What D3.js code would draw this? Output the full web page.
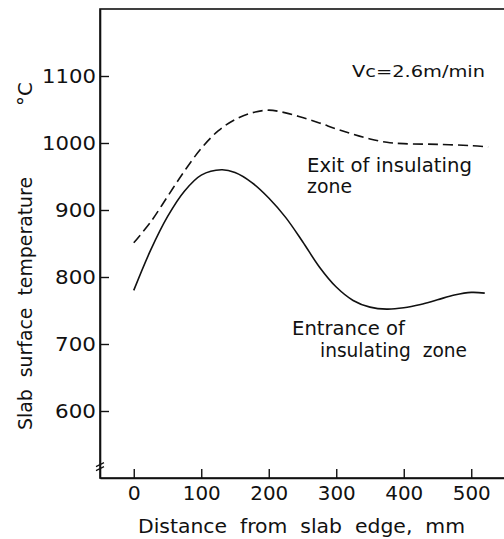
<!DOCTYPE html>
<html>
<head>
<meta charset="utf-8">
<script src="https://cdn.jsdelivr.net/npm/d3@7"></script>
<style>
  body { margin: 0; background: #fff; }
  svg text { font-family: "DejaVu Sans", sans-serif; fill: #111; white-space: pre; }
</style>
</head>
<body>
<svg id="chart"></svg>
<script>
// values
const xTicks = [0, 100, 200, 300, 400, 500];
const yTicks = [600, 700, 800, 900, 1000, 1100];

const entranceX = [0, 25, 50, 75, 100, 130, 150, 175, 200, 225, 250, 275, 300, 325, 350, 375, 400, 425, 450, 475, 500, 520];
const entranceT = [780, 840, 890, 928, 952, 960, 956, 941, 918, 889, 853, 815, 785, 765, 755, 752, 754, 759, 766, 773, 777, 776];

const exitX = [0, 25, 50, 75, 100, 125, 150, 175, 200, 225, 250, 275, 300, 325, 350, 375, 400, 450, 500, 525];
const exitT = [851, 882, 920, 958, 992, 1018, 1035, 1045, 1049, 1045, 1038, 1030, 1021, 1013, 1006, 1001, 999, 998, 996, 994];

const svgWidth = 504, svgHeight = 539;

const chart = d3.select("#chart")
    .attr("width", svgWidth)
    .attr("height", svgHeight);

var xScale = d3.scaleLinear().domain([-50, 550]).range([100, 505]);
var yScale = d3.scaleLinear().domain([500, 1200]).range([478, 9]);

// frame
chart.append("rect")
    .attr("x", xScale(-50)).attr("y", yScale(1200))
    .attr("width", xScale(550) - xScale(-50))
    .attr("height", yScale(500) - yScale(1200))
    .attr("fill", "none")
    .attr("stroke", "#111")
    .attr("stroke-width", 1.6);

var xAxis = d3.axisBottom(xScale).tickValues(xTicks).tickFormat(d3.format("d"))
    .tickSize(-9).tickPadding(8).tickSizeOuter(0);
var yAxis = d3.axisLeft(yScale).tickValues(yTicks).tickFormat(d3.format("d"))
    .tickSize(-9).tickPadding(4).tickSizeOuter(0);

const gx = chart.append("g")
    .attr("transform", "translate(0," + yScale(500) + ")")
    .call(xAxis);
const gy = chart.append("g")
    .attr("transform", "translate(" + xScale(-50) + ",0)")
    .call(yAxis);

[gx, gy].forEach(function(g){
    g.select(".domain").attr("stroke", "#111").attr("stroke-width", 1.6);
    g.selectAll(".tick line").attr("stroke", "#111").attr("stroke-width", 1.4);
    g.selectAll(".tick text")
        .style("font-family", "DejaVu Sans, sans-serif")
        .style("font-size", "20px")
        .attr("fill", "#111");
});
gy.selectAll(".tick text").attr("textLength", function(d){ return d >= 1000 ? 54 : 41; })
    .attr("lengthAdjust", "spacingAndGlyphs");
gx.selectAll(".tick text").attr("textLength", function(d){ return d >= 100 ? 38 : 13; })
    .attr("lengthAdjust", "spacingAndGlyphs");

// axis break on y axis
[0, 4].forEach(function(off){
    chart.append("line")
        .attr("x1", xScale(-50) - 4).attr("y1", yScale(520) + 2 + off)
        .attr("x2", xScale(-50) + 4).attr("y2", yScale(520) - 2 + off)
        .attr("stroke", "#111").attr("stroke-width", 1.2);
});

var valueline = d3.line()
    .x(function(d){ return xScale(d.x); })
    .y(function(d){ return yScale(d.t); })
    .curve(d3.curveCatmullRom);

chart.append("path")
    .datum(entranceX.map((x, i) => ({x: x, t: entranceT[i]})))
    .attr("d", valueline)
    .attr("fill", "none")
    .attr("stroke", "#111")
    .attr("stroke-width", 1.6);

chart.append("path")
    .datum(exitX.map((x, i) => ({x: x, t: exitT[i]})))
    .attr("d", valueline)
    .attr("fill", "none")
    .attr("stroke", "#111")
    .attr("stroke-width", 1.6)
    .attr("stroke-dasharray", "10,5");

function label(txt, x, y, size, len, anchor) {
    return chart.append("text")
        .attr("x", x).attr("y", y)
        .attr("text-anchor", anchor || "start")
        .attr("xml:space", "preserve")
        .style("font-size", size + "px")
        .attr("textLength", len)
        .attr("lengthAdjust", "spacingAndGlyphs")
        .text(txt);
}

label("Vc=2.6m/min", 352, 77, 16, 133);
label("Exit of insulating", 307, 172, 19, 165);
label("zone", 307, 193, 19, 45);
label("Entrance of", 292, 335, 19, 113);
label("insulating  zone", 320, 357, 19, 147);

// axis titles
label("Distance  from  slab  edge,  mm", 138, 533, 19, 327);

chart.append("text")
    .attr("transform", "translate(32,430) rotate(-90)")
    .attr("xml:space", "preserve")
    .style("font-size", "20px")
    .attr("textLength", 253)
    .attr("lengthAdjust", "spacingAndGlyphs")
    .text("Slab  surface  temperature");

chart.append("text")
    .attr("transform", "translate(32,106) rotate(-90)")
    .style("font-size", "20px")
    .text("°C");
</script>
</body>
</html>
